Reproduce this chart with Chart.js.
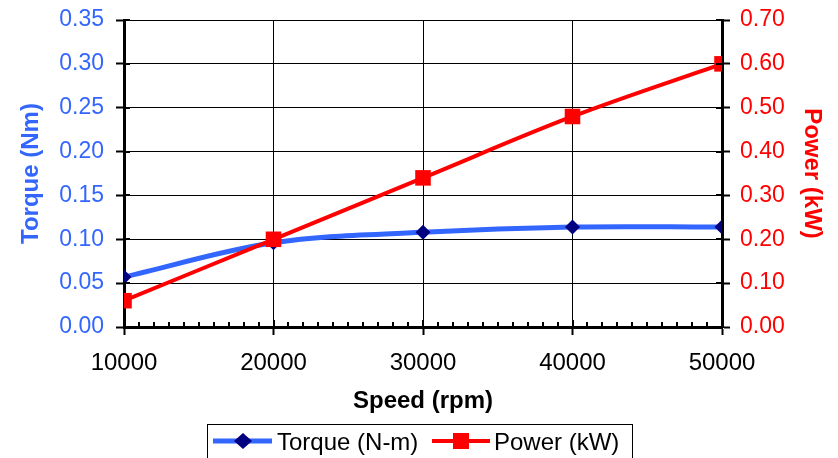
<!DOCTYPE html>
<html>
<head>
<meta charset="utf-8">
<script src="https://cdn.jsdelivr.net/npm/chart.js@4/dist/chart.umd.min.js"></script>
<style>
  html, body { margin: 0; padding: 0; background: #fff; }
  #wrap { width: 838px; height: 458px; }
</style>
</head>
<body>
<div id="wrap"><canvas id="motorChart" width="838" height="458"></canvas></div>
<script>
const speeds = [10000, 20000, 30000, 40000, 50000]
const torque = [0.057, 0.096, 0.108, 0.114, 0.114]
const power = [0.06, 0.20, 0.34, 0.48, 0.60]

const blue = '#3366FF'
const navy = '#000080'
const red = '#FF0000'
const font = 'Liberation Sans, Arial, sans-serif'

// Excel style tick marks: crossing majors and inner minor ticks
const tickMarks = {
    id: 'tickMarks',
    afterDatasetsDraw(chart) {
        const c = chart.ctx
        const x = chart.scales.x, yL = chart.scales.y, yR = chart.scales.y1
        const bottom = chart.chartArea.bottom
        c.save()
        c.strokeStyle = '#000'
        c.lineWidth = 2
        c.beginPath()
        for (let v = 10000; v <= 50000; v += 1000) {
            const px = Math.round(x.getPixelForValue(v))
            const major = v % 10000 === 0
            c.moveTo(px, bottom - (major ? 7 : 5))
            c.lineTo(px, bottom)
        }
        yL.ticks.forEach(t => {
            const py = Math.round(yL.getPixelForValue(t.value))
            c.moveTo(chart.chartArea.left, py)
            c.lineTo(chart.chartArea.left + 6, py)
        })
        yR.ticks.forEach(t => {
            const py = Math.round(yR.getPixelForValue(t.value))
            c.moveTo(chart.chartArea.right - 6, py)
            c.lineTo(chart.chartArea.right, py)
        })
        c.stroke()
        c.restore()
    }
}

// legend drawn in a box under the axis title
const boxLegend = {
    id: 'boxLegend',
    afterDraw(chart) {
        const c = chart.ctx
        c.save()
        c.fillStyle = '#fff'
        c.strokeStyle = '#000'
        c.lineWidth = 1
        c.fillRect(207.5, 424.5, 425, 40)
        c.strokeRect(207.5, 424.5, 425, 40)
        c.font = '24px ' + font
        c.textBaseline = 'middle'
        const cy = 441
        // torque
        c.strokeStyle = blue
        c.lineWidth = 5
        c.beginPath(); c.moveTo(213, cy); c.lineTo(272, cy); c.stroke()
        c.fillStyle = navy
        c.beginPath()
        c.moveTo(243, cy - 8); c.lineTo(252, cy); c.lineTo(243, cy + 8); c.lineTo(234, cy)
        c.closePath(); c.fill()
        c.fillStyle = '#000'
        c.fillText(chart.data.datasets[0].label, 277, cy + 2)
        // power
        c.strokeStyle = red
        c.lineWidth = 4
        c.beginPath(); c.moveTo(432, cy); c.lineTo(490, cy); c.stroke()
        c.fillStyle = red
        c.fillRect(453, cy - 8, 16, 16)
        c.fillStyle = '#000'
        c.fillText(chart.data.datasets[1].label, 494, cy + 2)
        c.restore()
    }
}

const fitY = w => s => { s.width = w; s.paddingTop = 0; s.paddingBottom = 0 }

const ctx = document.getElementById('motorChart').getContext('2d')

const data = {
    datasets: [{
        label: 'Torque (N-m)',
        data: speeds.map((s, i) => ({x: s, y: torque[i]})),
        yAxisID: 'y',
        borderColor: blue,
        borderWidth: 5,
        pointStyle: 'rectRot',
        pointRadius: 7.5,
        pointBackgroundColor: navy,
        pointBorderWidth: 0,
        tension: 0.35,
        order: 2,
    }, {
        label: 'Power (kW)',
        data: speeds.map((s, i) => ({x: s, y: power[i]})),
        yAxisID: 'y1',
        borderColor: red,
        borderWidth: 4,
        pointStyle: 'rect',
        pointRadius: 11,
        pointBackgroundColor: red,
        pointBorderWidth: 0,
        tension: 0.35,
        order: 1,
    }]
}

const config = {
    type: 'line',
    data: data,
    options: {
        responsive: false,
        animation: false,
        layout: { padding: { left: 0, right: 0, top: 20, bottom: 40 } },
        plugins: { legend: { display: false }, tooltip: { enabled: false } },
        scales: {
            x: {
                type: 'linear',
                min: 10000,
                max: 50000,
                afterFit: s => { s.height = 91 },
                ticks: { stepSize: 10000, color: '#000', font: { family: font, size: 24 }, padding: 14, maxRotation: 0,
                    callback: v => String(v) },
                grid: { color: '#000', lineWidth: 1, tickLength: 8, tickWidth: 2, tickColor: '#000' },
                border: { color: '#000', width: 3 },
                title: { display: true, text: 'Speed (rpm)', color: '#000', font: { family: font, size: 24, weight: 'bold' }, padding: 2 },
            },
            y: {
                position: 'left',
                min: 0,
                max: 0.35,
                afterFit: fitY(124),
                ticks: { stepSize: 0.05, color: blue, font: { family: font, size: 23 }, padding: 12,
                    callback: v => v.toFixed(2) },
                grid: { color: '#000', lineWidth: 1, tickLength: 8, tickWidth: 2, tickColor: '#000' },
                border: { color: '#000', width: 3 },
                title: { display: true, text: 'Torque (Nm)', color: blue, font: { family: font, size: 24, weight: 'bold' }, padding: { top: 17, bottom: 0 } },
            },
            y1: {
                position: 'right',
                min: 0,
                max: 0.7,
                afterFit: fitY(116),
                ticks: { stepSize: 0.1, color: red, font: { family: font, size: 23 }, padding: 10,
                    callback: v => v.toFixed(2) },
                grid: { drawOnChartArea: false, tickLength: 8, tickWidth: 2, tickColor: '#000' },
                border: { color: '#000', width: 3 },
                title: { display: true, text: 'Power (kW)', color: red, font: { family: font, size: 24, weight: 'bold' }, padding: { top: 12, bottom: 0 } },
            },
        },
    },
    plugins: [tickMarks, boxLegend],
}

const myChart = new Chart(ctx, config)
</script>
</body>
</html>
